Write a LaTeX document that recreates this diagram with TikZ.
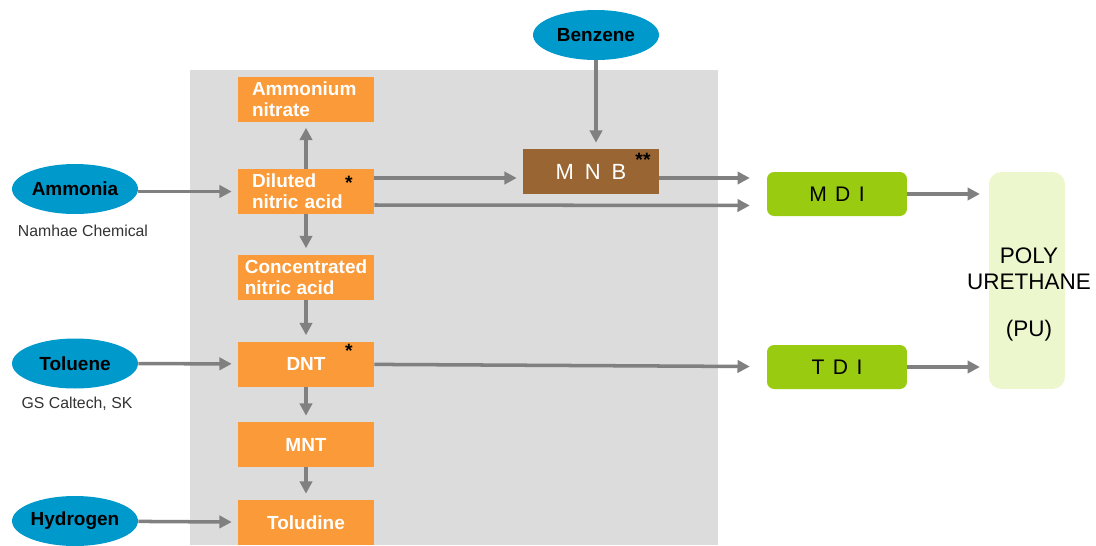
\documentclass[tikz,border=0pt]{standalone}
\usepackage{fontspec}
\setmainfont{Liberation Sans}
\usetikzlibrary{arrows.meta,shapes.geometric}

\definecolor{unitorange}{HTML}{FA9A38}
\definecolor{feedblue}{HTML}{0099CC}
\definecolor{mnbbrown}{HTML}{996633}
\definecolor{isogreen}{HTML}{99CC11}
\definecolor{pugreen}{HTML}{EDF7CE}
\definecolor{flowgray}{HTML}{808080}
\definecolor{plantgray}{HTML}{DCDCDC}

\newcommand{\gap}[1]{\hspace{#1em}}

\tikzset{
  feed/.style={ellipse, fill=feedblue, minimum width=2.52cm, minimum height=1cm,
    inner sep=0pt, font=\fontsize{10.8}{12}\selectfont\bfseries},
  supplier/.style={text=black!80, font=\fontsize{9}{10}\selectfont},
  unit/.style={rectangle, fill=unitorange, text=white, minimum width=2.72cm,
    minimum height=0.9cm, inner sep=0pt, align=left,
    font=\fontsize{10.8}{12}\selectfont\bfseries},
  iso/.style={rectangle, rounded corners=4pt, fill=isogreen, minimum width=2.8cm,
    minimum height=0.88cm, inner sep=0pt, font=\fontsize{12}{14}\selectfont},
  note/.style={inner sep=0pt, font=\fontsize{11}{12}\selectfont\bfseries},
  flow/.style={draw=flowgray, line width=2pt,
    -{Triangle[length=7pt,width=7pt]}, shorten >=3.4pt},
  longflow/.style={flow, shorten >=9.6pt},
}

\begin{document}
\begin{tikzpicture}[x=0.02cm, y=-0.02cm]
    \useasboundingbox (0,0) rectangle (1096,545);
    % plant area
    \fill[plantgray] (190,70) rectangle (718,545);

    % raw materials
    \node[feed] (benz) at (596,35) {Benzene};
    \node[feed] (amm) at (75,189) {Ammonia};
    \node[supplier] (ammsup) at (83,231) {Namhae Chemical};
    \node[feed] (tol) at (75,363.5) {Toluene};
    \node[supplier] (tolsup) at (77,404) {GS Caltech, SK};
    \node[feed] (hyd) at (75,521) {Hydrogen};

    % units in the plant
    \node[unit, text width=2.16cm] (amn) at (306,99) {Ammonium\\nitrate};
    \node[unit, text width=2.16cm] (dil) at (306,191.5) {Diluted\\nitric acid};
    \node[note] (dilstar) at (349,183) {*};
    \node[unit] (conc) at (306,277) {Concentrated\\nitric acid};
    \node[unit] (dnt) at (306,364) {DNT};
    \node[note] (dntstar) at (349,351) {*};
    \node[unit] (mnt) at (306,444.5) {MNT};
    \node[unit] (tolud) at (306,522.5) {Toludine};
    \node[unit, fill=mnbbrown, align=center, font=\fontsize{12.5}{14}\selectfont]
        (mnb) at (591,171.5) {M\gap{0.5}N\gap{0.5}B};
    \node[note] (mnbstar) at (643,160) {**};

    % products
    \node[iso] (mdi) at (837,194) {M\gap{0.4}D\gap{0.4}I};
    \node[iso] (tdi) at (837,367) {T\gap{0.4}D\gap{0.4}I};
    \node[rectangle, rounded corners=7pt, fill=pugreen, minimum width=1.52cm,
        minimum height=4.34cm] (pu) at (1027,280.5) {};
    \node[align=center, font=\fontsize{12.8}{14.8}\selectfont]
        (putxt) at (1029,294) {POLY\\URETHANE\\[0.42cm](PU)};

    % flows
    \draw[flow] (amm.east |- dil.west) -- (dil.west);
    \draw[flow] (dil) -- (amn);
    \draw[flow] (dil) -- (conc);
    \draw[flow] (conc) -- (dnt);
    \draw[flow] (dnt) -- (mnt);
    \draw[flow] (mnt) -- (tolud);
    \draw[flow] (tol) -- (dnt);
    \draw[flow] (hyd) -- (tolud);
    \draw[flow] (benz) -- (benz |- mnb.north);
    \draw[flow] ([yshift=0.27cm]dil.east) -- ([yshift=0.27cm]dil.east -| mnb.west);
    \draw[longflow] ([yshift=-0.13cm]mnb.east) -- ([yshift=-0.13cm]mnb.east -| mdi.west);
    \draw[longflow] ([yshift=-0.27cm]dil.east) -- ([yshift=-0.23cm]mdi.west);
    \draw[longflow] (dnt) -- (tdi);
    \draw[flow, shorten >=5pt] (mdi) -- (mdi -| pu.west);
    \draw[flow, shorten >=5pt] (tdi) -- (tdi -| pu.west);
\end{tikzpicture}
\end{document}
